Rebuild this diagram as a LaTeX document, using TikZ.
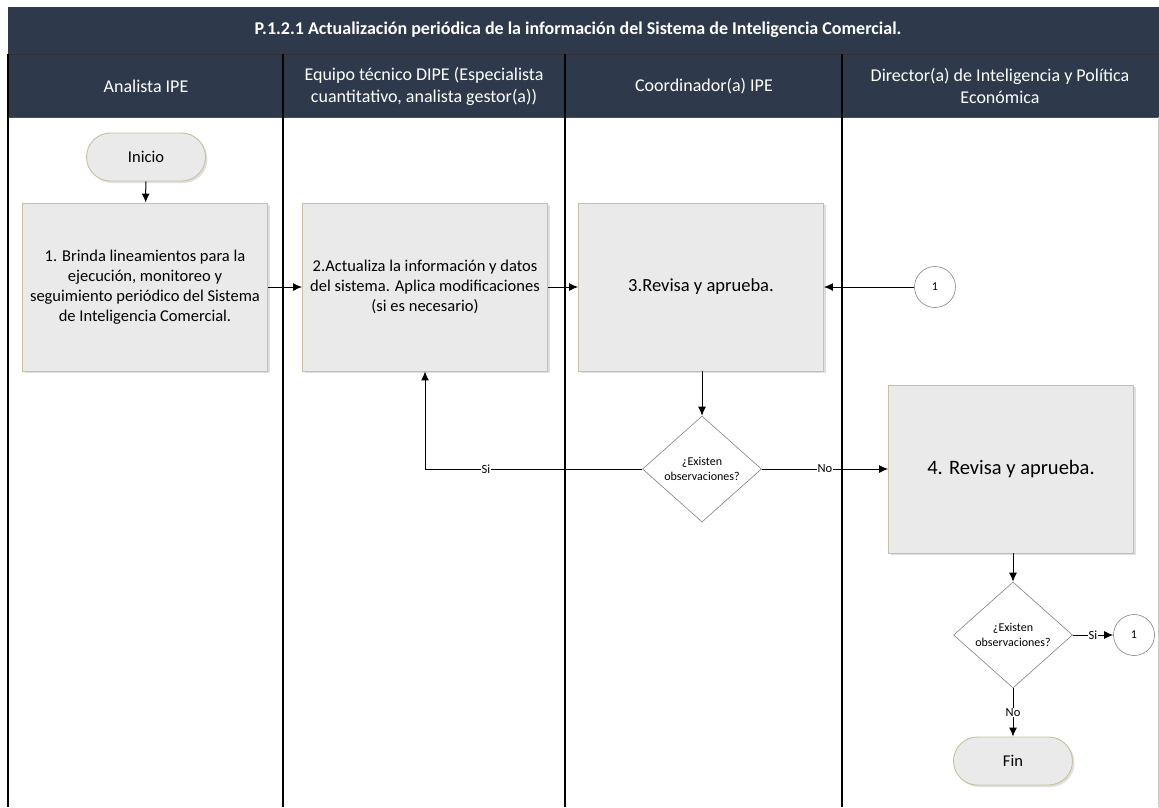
\documentclass[tikz,border=0pt]{standalone}
\usepackage{fontspec}
\setmainfont{Carlito}
\usetikzlibrary{arrows.meta,shapes.geometric,shadows}
\definecolor{navy}{RGB}{46,58,75}
\definecolor{boxfill}{RGB}{234,234,234}
\definecolor{boxline}{RGB}{200,193,160}
\definecolor{shapeline}{RGB}{130,130,130}
\tikzset{
  stepbox/.style={draw=boxline, fill=boxfill, line width=0.9pt, minimum width=245pt, minimum height=168pt,
    align=center, font=\fontsize{16.5}{20}\selectfont, inner sep=4pt,
    drop shadow={opacity=0.25, shadow xshift=2pt, shadow yshift=-2pt}},
  term/.style={draw=boxline, fill=boxfill, line width=0.9pt, minimum width=119pt, minimum height=48pt,
    rounded corners=24pt, font=\fontsize{16.5}{20}\selectfont,
    drop shadow={opacity=0.25, shadow xshift=2pt, shadow yshift=-2pt}},
  decis/.style={diamond, draw=shapeline, fill=white, line width=0.6pt, minimum width=119pt, minimum height=106pt,
    inner sep=0pt, align=center, font=\fontsize{12}{15}\selectfont},
  conn/.style={circle, draw=shapeline, fill=white, line width=0.6pt, minimum size=41pt, inner sep=0pt,
    font=\fontsize{12}{14}\selectfont},
  arr/.style={line width=1pt, -{Latex[length=9pt,width=8pt]}},
  lbl/.style={fill=white, inner sep=0.5pt, font=\fontsize{12.5}{14}\selectfont},
  hdr/.style={text=white, align=center, font=\fontsize{18}{22}\selectfont},
  lane/.style={line width=1.4pt, black},
}
\begin{document}
\begin{tikzpicture}[x=1pt,y=-1pt]
\useasboundingbox (0,0) rectangle (1159,807);
% header
\fill[navy] (8,7) rectangle (1159,117);
\draw[line width=1pt, black!80] (8,54) -- (1159,54);
\draw[line width=0.8pt, black!70] (8,117) -- (1159,117);
\node[hdr, font=\bfseries\fontsize{18}{22}\selectfont] (title) at (578,30) {P.1.2.1 Actualización periódica de la información del Sistema de Inteligencia Comercial.};
\node[hdr] (h1) at (146,86) {Analista IPE};
\node[hdr] (h2) at (424,86) {Equipo técnico DIPE (Especialista\\cuantitativo, analista gestor(a))};
\node[hdr] (h3) at (704,86) {Coordinador(a) IPE};
\node[hdr] (h4) at (1000,86) {Director(a) de Inteligencia y Política\\Económica};
% lanes
\draw[lane] (8,54) -- (8,807);
\draw[lane] (283,54) -- (283,807);
\draw[lane] (565,54) -- (565,807);
\draw[lane] (842,54) -- (842,807);
\draw[line width=0.8pt, black!20] (1158,117) -- (1158,807);
% nodes
\node[term] (inicio) at (146,157) {Inicio};
\node[stepbox] (b1) at (145,287) {1. Brinda lineamientos para la\\ejecución, monitoreo y\\seguimiento periódico del Sistema\\de Inteligencia Comercial.};
\node[stepbox] (b2) at (425,287) {2.Actualiza la información y datos\\del sistema. Aplica modificaciones\\(si es necesario)};
\node[stepbox, font=\fontsize{18.5}{22}\selectfont] (b3) at (701,287) {3.Revisa y aprueba.};
\node[conn] (c1) at (935,287) {1};
\node[decis] (d1) at (702,469) {¿Existen\\observaciones?};
\node[stepbox, font=\fontsize{20.5}{24}\selectfont] (b4) at (1011,469) {4. Revisa y aprueba.};
\node[decis] (d2) at (1013,635) {¿Existen\\observaciones?};
\node[conn] (c2) at (1134,635) {1};
\node[term] (fin) at (1013,761) {Fin};
% connectors
\draw[arr] (inicio) -- (b1);
\draw[arr] (b1) -- (b2);
\draw[arr] (b2) -- (b3);
\draw[arr] (c1) -- (b3);
\draw[arr] (b3.south -| d1.north) -- (d1.north);
\draw[arr] (d1.west) -| node[lbl, pos=0.36] {Si} (b2.south);
\draw[arr] (d1.east) -- node[lbl] {No} (b4.west |- d1.east);
\draw[arr] (b4.south -| d2.north) -- (d2.north);
\draw[arr] (d2.east) -- node[lbl] {Si} (c2);
\draw[arr] (d2.south) -- node[lbl] {No} (fin);
\end{tikzpicture}
\end{document}
